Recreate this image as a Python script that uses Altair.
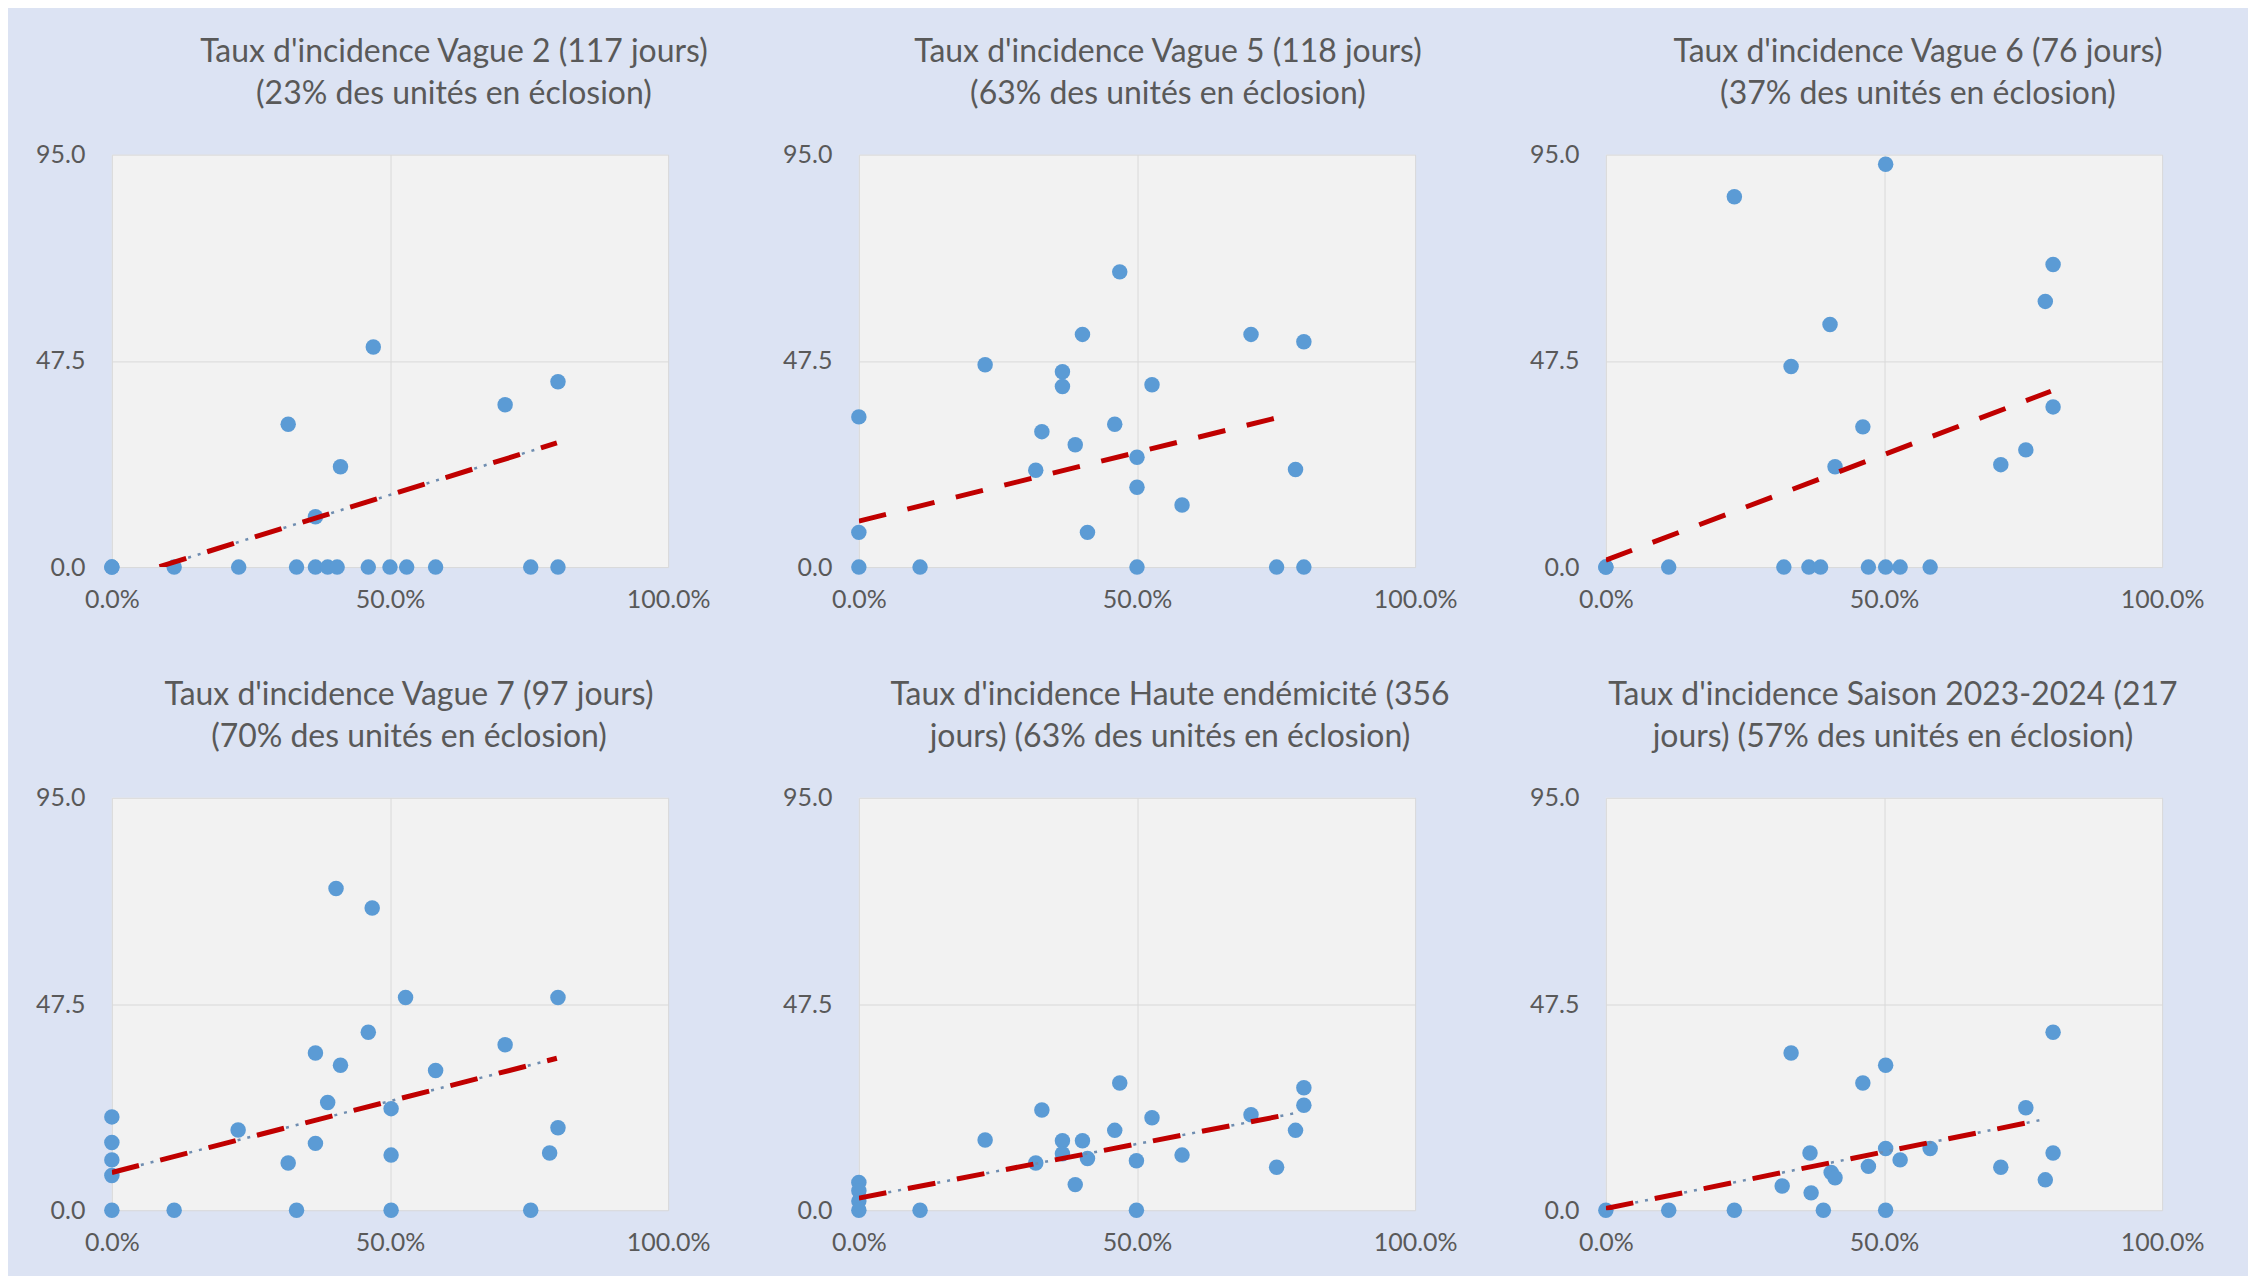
import altair as alt
import pandas as pd

titles = [
    ["Taux d'incidence Vague 2 (117 jours)", "(23% des unités en éclosion)"],
    ["Taux d'incidence Vague 5 (118 jours)", "(63% des unités en éclosion)"],
    ["Taux d'incidence Vague 6 (76 jours)", "(37% des unités en éclosion)"],
    ["Taux d'incidence Vague 7 (97 jours)", "(70% des unités en éclosion)"],
    ["Taux d'incidence Haute endémicité (356", "jours) (63% des unités en éclosion)"],
    ["Taux d'incidence Saison 2023-2024 (217", "jours) (57% des unités en éclosion)"],
]

x1 = [0, 0, 0.112, 0.228, 0.317, 0.332, 0.366, 0.366, 0.388, 0.405, 0.411, 0.461, 0.470, 0.500, 0.530, 0.582, 0.707, 0.753, 0.802, 0.802]
y1 = [0, 0, 0, 0, 32.9, 0, 11.6, 0, 0, 0, 23.1, 0, 50.7, 0, 0, 0, 37.4, 0, 42.7, 0]

x2 = [0, 0, 0, 0.110, 0.227, 0.318, 0.329, 0.366, 0.366, 0.389, 0.402, 0.411, 0.460, 0.469, 0.500, 0.500, 0.500, 0.527, 0.581, 0.705, 0.751, 0.785, 0.800, 0.800]
y2 = [34.6, 8.0, 0, 0, 46.6, 22.3, 31.2, 45.0, 41.6, 28.2, 53.6, 8.0, 32.9, 68.0, 25.3, 18.4, 0, 42.0, 14.3, 53.6, 0, 22.5, 51.9, 0]

x3 = [0, 0, 0.113, 0.231, 0.320, 0.333, 0.365, 0.386, 0.403, 0.412, 0.462, 0.472, 0.503, 0.503, 0.529, 0.583, 0.710, 0.755, 0.790, 0.804, 0.804]
y3 = [0, 0, 0, 85.3, 0, 46.2, 0, 0, 55.9, 23.1, 32.3, 0, 92.8, 0, 0, 0, 23.6, 27.0, 61.2, 69.7, 36.9]

x4 = [0, 0, 0, 0, 0, 0.112, 0.227, 0.317, 0.332, 0.366, 0.366, 0.388, 0.403, 0.411, 0.461, 0.468, 0.502, 0.502, 0.502, 0.528, 0.582, 0.707, 0.753, 0.787, 0.802, 0.802]
y4 = [21.5, 15.6, 11.6, 8.0, 0, 0, 18.5, 10.9, 0, 36.2, 15.4, 24.8, 74.1, 33.4, 41.0, 69.6, 23.4, 12.7, 0, 49.0, 32.2, 38.1, 0, 13.2, 49.0, 19.0]

x5 = [0, 0, 0, 0, 0.110, 0.227, 0.318, 0.329, 0.366, 0.366, 0.389, 0.402, 0.411, 0.460, 0.469, 0.499, 0.499, 0.527, 0.581, 0.705, 0.751, 0.785, 0.800, 0.800]
y5 = [6.4, 4.5, 2.1, 0, 0, 16.2, 10.9, 23.1, 16.0, 13.0, 5.9, 16.0, 11.9, 18.4, 29.3, 11.4, 0, 21.3, 12.7, 22.0, 9.9, 18.4, 24.2, 28.2]

x6 = [0, 0.113, 0.231, 0.317, 0.333, 0.367, 0.369, 0.391, 0.405, 0.412, 0.462, 0.472, 0.503, 0.503, 0.503, 0.529, 0.583, 0.710, 0.755, 0.790, 0.804, 0.804]
y6 = [0, 0, 0, 5.6, 36.2, 13.2, 4.0, 0, 8.7, 7.5, 29.3, 10.1, 33.4, 14.2, 0, 11.6, 14.2, 9.9, 23.6, 7.0, 41.0, 13.2]

xs = [x1, x2, x3, x4, x5, x6]
ys = [y1, y2, y3, y4, y5, y6]

trend_x_start = [0, 0, 0, 0, 0, 0]
trend_y_start = [-3.3, 10.6, 1.6, 8.7, 2.8, 0.4]
trend_x_end = [0.80, 0.78, 0.80, 0.80, 0.79, 0.79]
trend_y_end = [28.6, 35.3, 40.5, 35.0, 22.5, 21.0]
show_dotted = [True, False, False, True, True, True]

title_dx = [64, 31, 34, 19, 33, 9]

TEXT = "#595959"
FONT = "Lato"


def panel(i):
    pts = pd.DataFrame({"x": xs[i], "y": ys[i]})
    trend = pd.DataFrame({"x": [trend_x_start[i], trend_x_end[i]],
                          "y": [trend_y_start[i], trend_y_end[i]]})
    xenc = alt.X("x:Q", title=None,
                 scale=alt.Scale(domain=[0, 1], nice=False, zero=False),
                 axis=alt.Axis(values=[0, 0.5, 1], format=".1%", labelPadding=20,
                               labelFlush=False))
    yenc = alt.Y("y:Q", title=None,
                 scale=alt.Scale(domain=[0, 95], nice=False, zero=False),
                 axis=alt.Axis(values=[0, 47.5, 95], format=".1f", labelPadding=27))
    points = alt.Chart(pts).mark_circle(size=240, opacity=1, color="#5b9bd5").encode(x=xenc, y=yenc)
    layers = [points]
    if show_dotted[i]:
        layers.append(alt.Chart(trend).mark_line(clip=True, color="#6f8db0", strokeWidth=2.5,
                                                 strokeDash=[3, 7]).encode(x="x:Q", y="y:Q"))
    layers.append(alt.Chart(trend).mark_line(clip=True, color="#c00000", strokeWidth=5,
                                             strokeDash=[28, 22]).encode(x="x:Q", y="y:Q"))
    return alt.layer(*layers).properties(
        width=557, height=413,
        title=alt.TitleParams(text=titles[i], anchor="middle", frame="group", dx=title_dx[i],
                              offset=32, fontSize=32, font=FONT, fontWeight="normal",
                              color=TEXT, lineHeight=42),
    )


chart = alt.concat(*[panel(i) for i in range(6)], columns=3,
                   spacing={"row": 231, "column": 191}, bounds="flush").properties(
    background="#dce3f3",
    padding={"left": 27, "top": 27, "right": 44, "bottom": 20},
).configure_view(fill="#f2f2f2", stroke=None).configure_axis(
    domain=False, ticks=False, grid=True, gridColor="#d9d9d9", gridWidth=1,
    labelFont=FONT, labelFontSize=25, labelColor=TEXT,
)

chart.save("out.html", embed_options={"renderer": "svg", "actions": False})
